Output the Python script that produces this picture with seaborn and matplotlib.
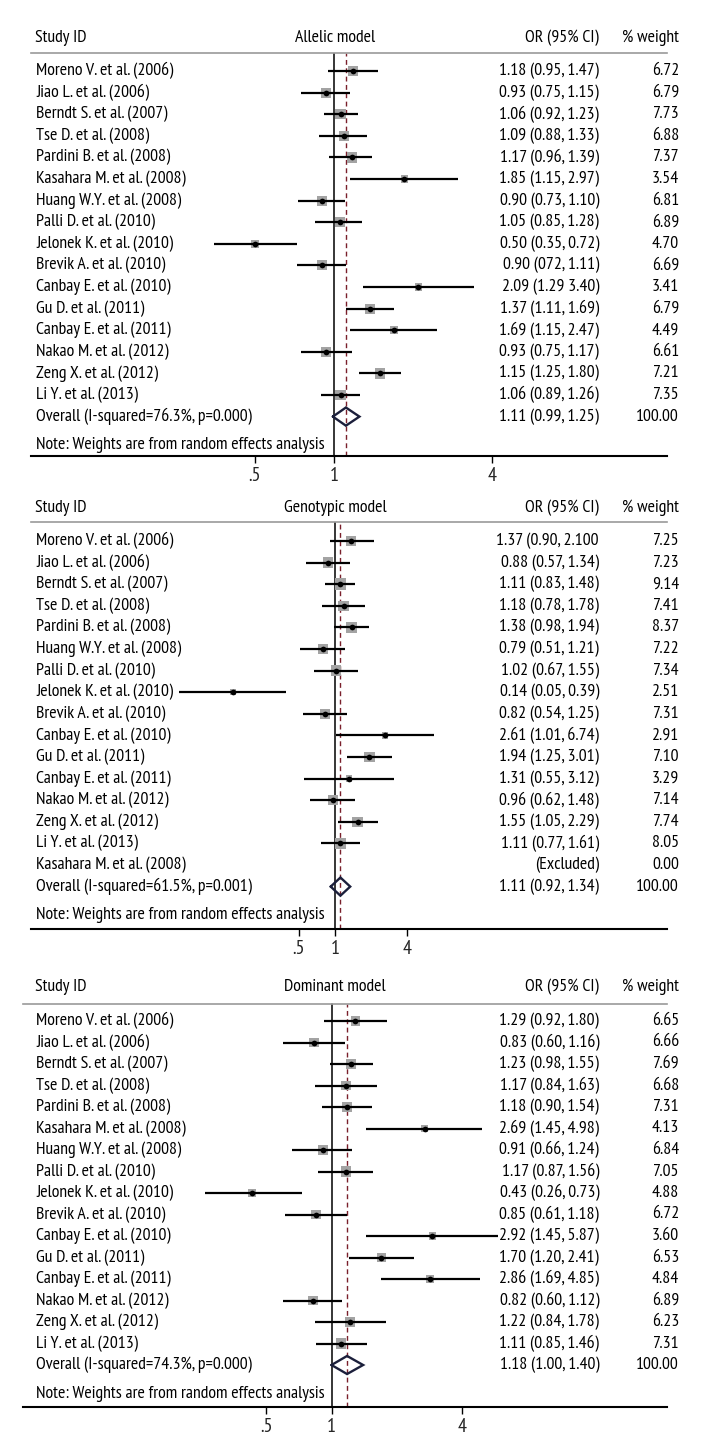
import numpy as np
import pandas as pd
import matplotlib.pyplot as plt
import matplotlib.transforms as mtransforms
from matplotlib.ticker import NullLocator
import seaborn as sns

# Data
studies_a = ["Moreno V. et al. (2006)", "Jiao L. et al. (2006)", "Berndt S. et al. (2007)",
             "Tse D. et al. (2008)", "Pardini B. et al. (2008)", "Kasahara M. et al. (2008)",
             "Huang W.Y. et al. (2008)", "Palli D. et al. (2010)", "Jelonek K. et al. (2010)",
             "Brevik A. et al. (2010)", "Canbay E. et al. (2010)", "Gu D. et al. (2011)",
             "Canbay E. et al. (2011)", "Nakao M. et al. (2012)", "Zeng X. et al. (2012)",
             "Li Y. et al. (2013)"]
or_a = [1.18, 0.93, 1.06, 1.09, 1.17, 1.85, 0.90, 1.05, 0.50, 0.90, 2.09, 1.37, 1.69, 0.93, 1.50, 1.06]
lo_a = [0.95, 0.75, 0.92, 0.88, 0.96, 1.15, 0.73, 0.85, 0.35, 0.72, 1.29, 1.11, 1.15, 0.75, 1.25, 0.89]
hi_a = [1.47, 1.15, 1.23, 1.33, 1.39, 2.97, 1.10, 1.28, 0.72, 1.11, 3.40, 1.69, 2.47, 1.17, 1.80, 1.26]
w_a = [6.72, 6.79, 7.73, 6.88, 7.37, 3.54, 6.81, 6.89, 4.70, 6.69, 3.41, 6.79, 4.49, 6.61, 7.21, 7.35]
txt_a = ["1.18 (0.95, 1.47)", "0.93 (0.75, 1.15)", "1.06 (0.92, 1.23)", "1.09 (0.88, 1.33)",
         "1.17 (0.96, 1.39)", "1.85 (1.15, 2.97)", "0.90 (0.73, 1.10)", "1.05 (0.85, 1.28)",
         "0.50 (0.35, 0.72)", "0.90 (072, 1.11)", "2.09 (1.29 3.40)", "1.37 (1.11, 1.69)",
         "1.69 (1.15, 2.47)", "0.93 (0.75, 1.17)", "1.15 (1.25, 1.80)", "1.06 (0.89, 1.26)"]
overall_a = [1.11, 0.99, 1.25]
overall_lbl_a = "Overall (I-squared=76.3%, p=0.000)"
overall_txt_a = "1.11 (0.99, 1.25)"

studies_g = ["Moreno V. et al. (2006)", "Jiao L. et al. (2006)", "Berndt S. et al. (2007)",
             "Tse D. et al. (2008)", "Pardini B. et al. (2008)", "Huang W.Y. et al. (2008)",
             "Palli D. et al. (2010)", "Jelonek K. et al. (2010)", "Brevik A. et al. (2010)",
             "Canbay E. et al. (2010)", "Gu D. et al. (2011)", "Canbay E. et al. (2011)",
             "Nakao M. et al. (2012)", "Zeng X. et al. (2012)", "Li Y. et al. (2013)",
             "Kasahara M. et al. (2008)"]
or_g = [1.37, 0.88, 1.11, 1.18, 1.38, 0.79, 1.02, 0.14, 0.82, 2.61, 1.94, 1.31, 0.96, 1.55, 1.11, np.nan]
lo_g = [0.90, 0.57, 0.83, 0.78, 0.98, 0.51, 0.67, 0.05, 0.54, 1.01, 1.25, 0.55, 0.62, 1.05, 0.77, np.nan]
hi_g = [2.10, 1.34, 1.48, 1.78, 1.94, 1.21, 1.55, 0.39, 1.25, 6.74, 3.01, 3.12, 1.48, 2.29, 1.61, np.nan]
w_g = [7.25, 7.23, 9.14, 7.41, 8.37, 7.22, 7.34, 2.51, 7.31, 2.91, 7.10, 3.29, 7.14, 7.74, 8.05, 0.00]
txt_g = ["1.37 (0.90, 2.100", "0.88 (0.57, 1.34)", "1.11 (0.83, 1.48)", "1.18 (0.78, 1.78)",
         "1.38 (0.98, 1.94)", "0.79 (0.51, 1.21)", "1.02 (0.67, 1.55)", "0.14 (0.05, 0.39)",
         "0.82 (0.54, 1.25)", "2.61 (1.01, 6.74)", "1.94 (1.25, 3.01)", "1.31 (0.55, 3.12)",
         "0.96 (0.62, 1.48)", "1.55 (1.05, 2.29)", "1.11 (0.77, 1.61)", "(Excluded)"]
overall_g = [1.11, 0.92, 1.34]
overall_lbl_g = "Overall (I-squared=61.5%, p=0.001)"
overall_txt_g = "1.11 (0.92, 1.34)"

studies_d = studies_a
or_d = [1.29, 0.83, 1.23, 1.17, 1.18, 2.69, 0.91, 1.17, 0.43, 0.85, 2.92, 1.70, 2.86, 0.82, 1.22, 1.11]
lo_d = [0.92, 0.60, 0.98, 0.84, 0.90, 1.45, 0.66, 0.87, 0.26, 0.61, 1.45, 1.20, 1.69, 0.60, 0.84, 0.85]
hi_d = [1.80, 1.16, 1.55, 1.63, 1.54, 4.98, 1.24, 1.56, 0.73, 1.18, 5.87, 2.41, 4.85, 1.12, 1.78, 1.46]
w_d = [6.65, 6.66, 7.69, 6.68, 7.31, 4.13, 6.84, 7.05, 4.88, 6.72, 3.60, 6.53, 4.84, 6.89, 6.23, 7.31]
txt_d = ["1.29 (0.92, 1.80)", "0.83 (0.60, 1.16)", "1.23 (0.98, 1.55)", "1.17 (0.84, 1.63)",
         "1.18 (0.90, 1.54)", "2.69 (1.45, 4.98)", "0.91 (0.66, 1.24)", "1.17 (0.87, 1.56)",
         "0.43 (0.26, 0.73)", "0.85 (0.61, 1.18)", "2.92 (1.45, 5.87)", "1.70 (1.20, 2.41)",
         "2.86 (1.69, 4.85)", "0.82 (0.60, 1.12)", "1.22 (0.84, 1.78)", "1.11 (0.85, 1.46)"]
overall_d = [1.18, 1.00, 1.40]
overall_lbl_d = "Overall (I-squared=74.3%, p=0.000)"
overall_txt_d = "1.18 (1.00, 1.40)"

tick_vals = [0.5, 1, 4]
tick_lbls = [".5", "1", "4"]

sns.set_theme(style="white")
plt.rcParams['font.family'] = ['PT Sans Narrow', 'DejaVu Sans']
FS = 12.8

W, H = 720, 1454
fig = plt.figure(figsize=(7.2, 14.54), dpi=100)


def panel(title, studies, ors, los, his, ws, txts, overall, ov_lbl, ov_txt,
          left, head_y, line_y, row0, pitch, axis_y, x0, k):
    right = 667
    ax = fig.add_axes([left / W, 1 - axis_y / H, (right - left) / W, (axis_y - line_y) / H])
    # log x limits so that OR=1 sits at pixel x0 with k px per ln unit
    ax.set_xscale("log")
    ax.set_xlim(np.exp((left - x0) / k), np.exp((right - x0) / k))
    ax.set_ylim((axis_y - row0) / pitch, (line_y - row0) / pitch)

    df = pd.DataFrame({"row": np.arange(len(studies)), "or_": ors, "lo": los, "hi": his, "w": ws})
    d = df.dropna()
    wmin, wmax = d.w.min(), d.w.max()
    sns.scatterplot(data=d, x="or_", y="row", size="w", sizes=(7.5 * wmin, 7.5 * wmax),
                    size_norm=(wmin, wmax), marker="s", color="#a3a3a3", linewidth=0,
                    legend=False, ax=ax, zorder=2)
    ax.hlines(d.row, d.lo, d.hi, color="black", lw=1.6, zorder=3)
    sns.scatterplot(data=d, x="or_", y="row", marker="o", s=17, color="black",
                    linewidth=0, legend=False, ax=ax, zorder=4)

    ov_row = len(studies)
    ax.axvline(1, color="black", lw=1.1, zorder=1)
    ax.axvline(overall[0], color="#7a1f2b", lw=1.0, ls=(0, (3.5, 2.5)), zorder=1)
    hh = 0.42
    ax.plot([overall[1], overall[0], overall[2], overall[0], overall[1]],
            [ov_row, ov_row - hh, ov_row, ov_row + hh, ov_row],
            color="#1b1f3b", lw=1.7, zorder=5, solid_joinstyle="miter")

    for s in ["left", "right"]:
        ax.spines[s].set_visible(False)
    ax.spines["top"].set_color("#9a9a9a")
    ax.spines["top"].set_linewidth(1.2)
    ax.spines["bottom"].set_color("black")
    ax.spines["bottom"].set_linewidth(1.5)
    ax.set_yticks([])
    ax.set_xticks(tick_vals)
    ax.set_xticklabels(tick_lbls, fontsize=14.5)
    ax.xaxis.set_minor_locator(NullLocator())
    ax.tick_params(axis="x", bottom=True, length=5, width=1.0, color="black", pad=3,
                   direction="out")
    ax.set_xlabel("")
    ax.set_ylabel("")

    tr = mtransforms.blended_transform_factory(fig.transFigure, ax.transData)
    hy = (head_y - row0) / pitch
    kw = dict(transform=tr, fontsize=FS, va="center", clip_on=False, color="black")
    ax.text(35 / W, hy, "Study ID", ha="left", **kw)
    ax.text(335 / W, hy, title, ha="center", **kw)
    ax.text(599 / W, hy, "OR (95% CI)", ha="right", **kw)
    ax.text(679 / W, hy, "% weight", ha="right", **kw)
    for i, (name, t, w) in enumerate(zip(studies, txts, ws)):
        ax.text(36 / W, i, name, ha="left", **kw)
        ax.text(599 / W, i, t, ha="right", **kw)
        ax.text(679 / W, i, f"{w:.2f}", ha="right", **kw)
    ax.text(36 / W, ov_row, ov_lbl, ha="left", **kw)
    ax.text(599 / W, ov_row, ov_txt, ha="right", **kw)
    ax.text(679 / W, ov_row, "100.00", ha="right", **kw)
    note_y = ov_row + 28.5 / pitch
    ax.text(36 / W, note_y, "Note: Weights are from random effects analysis", ha="left", **kw)


panel("Allelic model", studies_a, or_a, lo_a, hi_a, w_a, txt_a, overall_a, overall_lbl_a,
      overall_txt_a, left=31, head_y=38, line_y=52.5, row0=71, pitch=21.6, axis_y=456,
      x0=334, k=114)
panel("Genotypic model", studies_g, or_g, lo_g, hi_g, w_g, txt_g, overall_g, overall_lbl_g,
      overall_txt_g, left=31, head_y=508, line_y=522, row0=541, pitch=21.6, axis_y=929,
      x0=335, k=52)
panel("Dominant model", studies_d, or_d, lo_d, hi_d, w_d, txt_d, overall_d, overall_lbl_d,
      overall_txt_d, left=23.5, head_y=987, line_y=1003.5, row0=1021, pitch=21.5,
      axis_y=1407, x0=331.5, k=94)

fig.savefig("out.png", dpi=100, facecolor="white")
